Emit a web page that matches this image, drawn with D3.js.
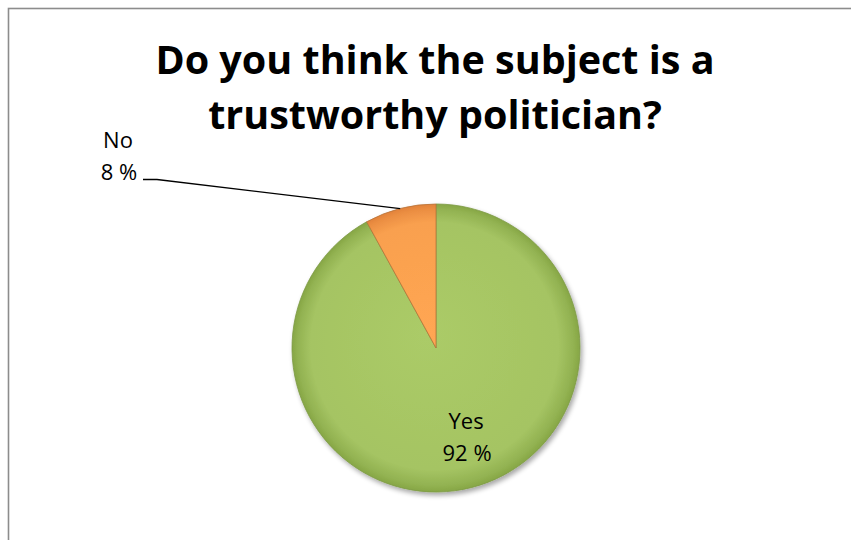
<!DOCTYPE html>
<html>
<head>
<meta charset="utf-8">
<script src="https://cdn.jsdelivr.net/npm/d3@7"></script>
<style>
  html, body { margin: 0; padding: 0; background: #fff; }
  svg { display: block; }
</style>
</head>
<body>
<svg id="chart" width="851" height="540"></svg>
<script>
// Survey answers
const categories = ["Yes", "No"];
const shares = [92, 8];
const labelTexts = ["92 %", "8 %"];
const titleLines = ["Do you think the subject is a", "trustworthy politician?"];

const faceColors = ["#a5c463", "#f9a04f"];
const rimColors = ["#86a645", "#e2823a"];
const edgeColors = ["#7e9a45", "#b8743a"];

const svg = d3.select("#chart");
const W = 851, H = 540;

// chart area frame (right and bottom edges run past the page)
svg.append("rect")
  .attr("x", 8.5).attr("y", 8.5)
  .attr("width", W + 20).attr("height", H + 20)
  .attr("fill", "#fff")
  .attr("stroke", "#8c8c8c")
  .attr("stroke-width", 1.6);

// title
const title = svg.append("text")
  .attr("text-anchor", "middle")
  .attr("font-family", "'Open Sans', Lato, sans-serif")
  .attr("font-weight", "bold")
  .attr("font-size", 39.5)
  .attr("fill", "#000");
title.selectAll("tspan").data(titleLines).join("tspan")
  .attr("x", 435)
  .attr("y", (d, i) => 74 + i * 55)
  .text(d => d);

const cx = 436, cy = 348, R = 144;

const defs = svg.append("defs");

// soft rim shading on each slice, in pie-local coordinates
categories.forEach((c, i) => {
  const g = defs.append("radialGradient")
    .attr("id", "face" + i)
    .attr("gradientUnits", "userSpaceOnUse")
    .attr("cx", 0).attr("cy", 0).attr("r", R)
    .attr("fx", -10).attr("fy", -14);
  g.append("stop").attr("offset", "0%").attr("stop-color", d3.color(faceColors[i]).brighter(0.1));
  g.append("stop").attr("offset", "86%").attr("stop-color", faceColors[i]);
  g.append("stop").attr("offset", "96%").attr("stop-color", d3.interpolateRgb(faceColors[i], rimColors[i])(0.6));
  g.append("stop").attr("offset", "100%").attr("stop-color", rimColors[i]);
});

const shadow = defs.append("filter").attr("id", "shadow")
  .attr("x", "-20%").attr("y", "-20%").attr("width", "140%").attr("height", "140%");
shadow.append("feGaussianBlur").attr("in", "SourceAlpha").attr("stdDeviation", 2.5).attr("result", "b");
shadow.append("feOffset").attr("in", "b").attr("dx", 2).attr("dy", 3).attr("result", "o");
shadow.append("feComponentTransfer").attr("in", "o").attr("result", "s")
  .append("feFuncA").attr("type", "linear").attr("slope", 0.35);
const merge = shadow.append("feMerge");
merge.append("feMergeNode").attr("in", "s");
merge.append("feMergeNode").attr("in", "SourceGraphic");

const data = categories.map((c, i) => ({ name: c, value: shares[i], label: labelTexts[i], idx: i }));
const pie = d3.pie().sort(null).value(d => d.value);
const arcs = pie(data);
const arc = d3.arc().innerRadius(0).outerRadius(R);

const pieG = svg.append("g")
  .attr("transform", `translate(${cx},${cy})`)
  .attr("filter", "url(#shadow)");

pieG.selectAll("path").data(arcs).join("path")
  .attr("d", arc)
  .attr("fill", d => `url(#face${d.data.idx})`)
  .attr("stroke", d => edgeColors[d.data.idx])
  .attr("stroke-width", 0.8)
  .attr("stroke-linejoin", "round");

const labelFont = "'Open Sans', Lato, sans-serif";

// inside label for the large slice
const inner = arcs[0];
const inPos = d3.arc().innerRadius(R * 0.7).outerRadius(R * 0.7).centroid(inner);
const yesLabel = svg.append("text")
  .attr("text-anchor", "middle")
  .attr("font-family", labelFont)
  .attr("font-size", 22)
  .attr("fill", "#000");
yesLabel.append("tspan").attr("x", cx + inPos[0] + 5).attr("y", cy + inPos[1] - 17).text(inner.data.name);
yesLabel.append("tspan").attr("x", cx + inPos[0] + 6).attr("y", cy + inPos[1] + 15).text(inner.data.label);

// outside label with leader line for the small slice
const outer = arcs[1];
const edge = d3.arc().innerRadius(R).outerRadius(R).centroid(outer);
const ex = cx + edge[0], ey = cy + edge[1];
const elbowX = 157, elbowY = 179.5, endX = 143;
svg.append("polyline")
  .attr("points", `${ex},${ey} ${elbowX},${elbowY} ${endX},${elbowY}`)
  .attr("fill", "none")
  .attr("stroke", "#000")
  .attr("stroke-width", 1.3);

const noLabel = svg.append("text")
  .attr("text-anchor", "middle")
  .attr("font-family", labelFont)
  .attr("font-size", 22)
  .attr("fill", "#000");
noLabel.append("tspan").attr("x", 118).attr("y", 148).text(outer.data.name);
noLabel.append("tspan").attr("x", 119).attr("y", 180).text(outer.data.label);
</script>
</body>
</html>
